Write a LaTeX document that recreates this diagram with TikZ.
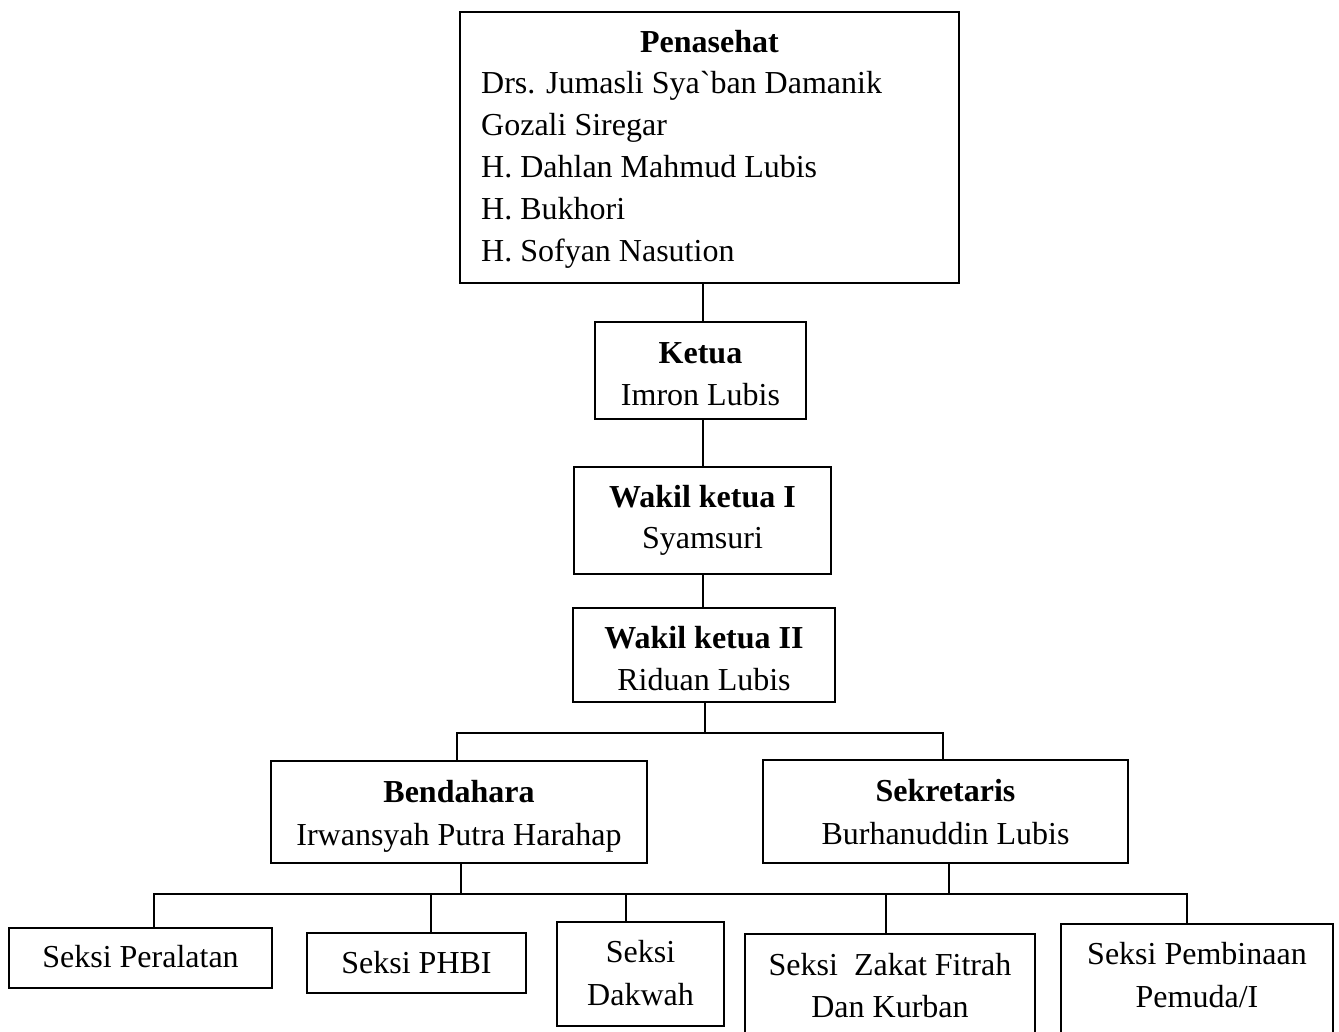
\documentclass[tikz,border=0pt]{standalone}
\usepackage{fontspec}
\setmainfont{Liberation Serif}
\begin{document}
\begin{tikzpicture}[x=1pt,y=-1pt,
  boxn/.style={draw, line width=2pt, rectangle, inner sep=0pt, outer sep=0pt},
  txt/.style={anchor=base, inner sep=0pt, font=\fontsize{32}{42}\selectfont},
  ltxt/.style={txt, anchor=base west},
  btxt/.style={txt, font=\fontsize{32}{42}\selectfont\bfseries},
  conn/.style={line width=2pt}]
\useasboundingbox (0,0) rectangle (1339,1032);
% boxes
\node[boxn, minimum width=499pt, minimum height=271pt] (pen) at (709.5,147.5) {};
\node[boxn, minimum width=211pt, minimum height=97pt] (ketua) at (700.5,370.5) {};
\node[boxn, minimum width=257pt, minimum height=107pt] (wk1) at (702.5,520.5) {};
\node[boxn, minimum width=262pt, minimum height=94pt] (wk2) at (704,655) {};
\node[boxn, minimum width=376pt, minimum height=102pt] (bend) at (459,812) {};
\node[boxn, minimum width=365pt, minimum height=103pt] (sekr) at (945.5,811.5) {};
\node[boxn, minimum width=263pt, minimum height=60pt] (peral) at (140.5,958) {};
\node[boxn, minimum width=219pt, minimum height=60pt] (phbi) at (416.5,963) {};
\node[boxn, minimum width=167pt, minimum height=104pt] (dakwah) at (640.5,974) {};
\node[boxn, minimum width=290pt, minimum height=116pt] (zakat) at (890,992) {};
\node[boxn, minimum width=272pt, minimum height=126pt] (pemb) at (1197,987) {};
% texts
\node[btxt] (penT) at (709.5,53) {Penasehat};
\node[ltxt] (pen1) at (481,94) {Drs. Jumasli Sya\textasciigrave ban Damanik};
\node[ltxt] (pen2) at (481,136) {Gozali Siregar};
\node[ltxt] (pen3) at (481,178) {H. Dahlan Mahmud Lubis};
\node[ltxt] (pen4) at (481,220) {H. Bukhori};
\node[ltxt] (pen5) at (481,262) {H. Sofyan Nasution};
\node[btxt] (ketuaT) at (700.5,363) {Ketua};
\node[txt] (ketuaN) at (700.5,405) {Imron Lubis};
\node[btxt] (wk1T) at (702.5,507) {Wakil ketua I};
\node[txt] (wk1N) at (702.5,548) {Syamsuri};
\node[btxt] (wk2T) at (704,648) {Wakil ketua II};
\node[txt] (wk2N) at (704,690) {Riduan Lubis};
\node[btxt] (bendT) at (459,802) {Bendahara};
\node[txt] (bendN) at (459,845) {Irwansyah Putra Harahap};
\node[btxt] (sekrT) at (945.5,801) {Sekretaris};
\node[txt] (sekrN) at (945.5,844) {Burhanuddin Lubis};
\node[txt] (peralT) at (140.5,967) {Seksi Peralatan};
\node[txt] (phbiT) at (416.5,973) {Seksi PHBI};
\node[txt] (dakwahT1) at (640.5,962) {Seksi};
\node[txt] (dakwahT2) at (640.5,1005) {Dakwah};
\node[txt] (zakatT1) at (890,975) {Seksi\ \ Zakat Fitrah};
\node[txt] (zakatT2) at (890,1017) {Dan Kurban};
\node[txt] (pembT1) at (1197,964) {Seksi Pembinaan};
\node[txt] (pembT2) at (1197,1007) {Pemuda/I};
% junction coordinates
\coordinate (spine) at (703,0);
\coordinate (bus1) at (705,733);
\coordinate (bus2) at (0,894);
% connectors
\draw[conn] (pen.south -| spine) -- (ketua.north -| spine);
\draw[conn] (ketua.south -| spine) -- (wk1.north -| spine);
\draw[conn] (wk1.south -| spine) -- (wk2.north -| spine);
\draw[conn] (wk2.south -| bus1) -- (bus1);
\draw[conn] ([xshift=-2pt]bend.north) -- ([xshift=-2pt]bend.north |- bus1) -- ([xshift=-2.5pt]sekr.north |- bus1) -- ([xshift=-2.5pt]sekr.north);
\draw[conn] ([xshift=2pt]bend.south) -- ([xshift=2pt]bend.south |- bus2);
\draw[conn] ([xshift=3pt]sekr.south) -- ([xshift=3pt]sekr.south |- bus2);
\draw[conn] ([xshift=13.5pt]peral.north) -- ([xshift=13.5pt]peral.north |- bus2) -- ([xshift=-10pt]pemb.north |- bus2) -- ([xshift=-10pt]pemb.north);
\draw[conn] ([xshift=14.5pt]phbi.north) -- ([xshift=14.5pt]phbi.north |- bus2);
\draw[conn] ([xshift=-14.5pt]dakwah.north) -- ([xshift=-14.5pt]dakwah.north |- bus2);
\draw[conn] ([xshift=-4pt]zakat.north) -- ([xshift=-4pt]zakat.north |- bus2);
\end{tikzpicture}
\end{document}
